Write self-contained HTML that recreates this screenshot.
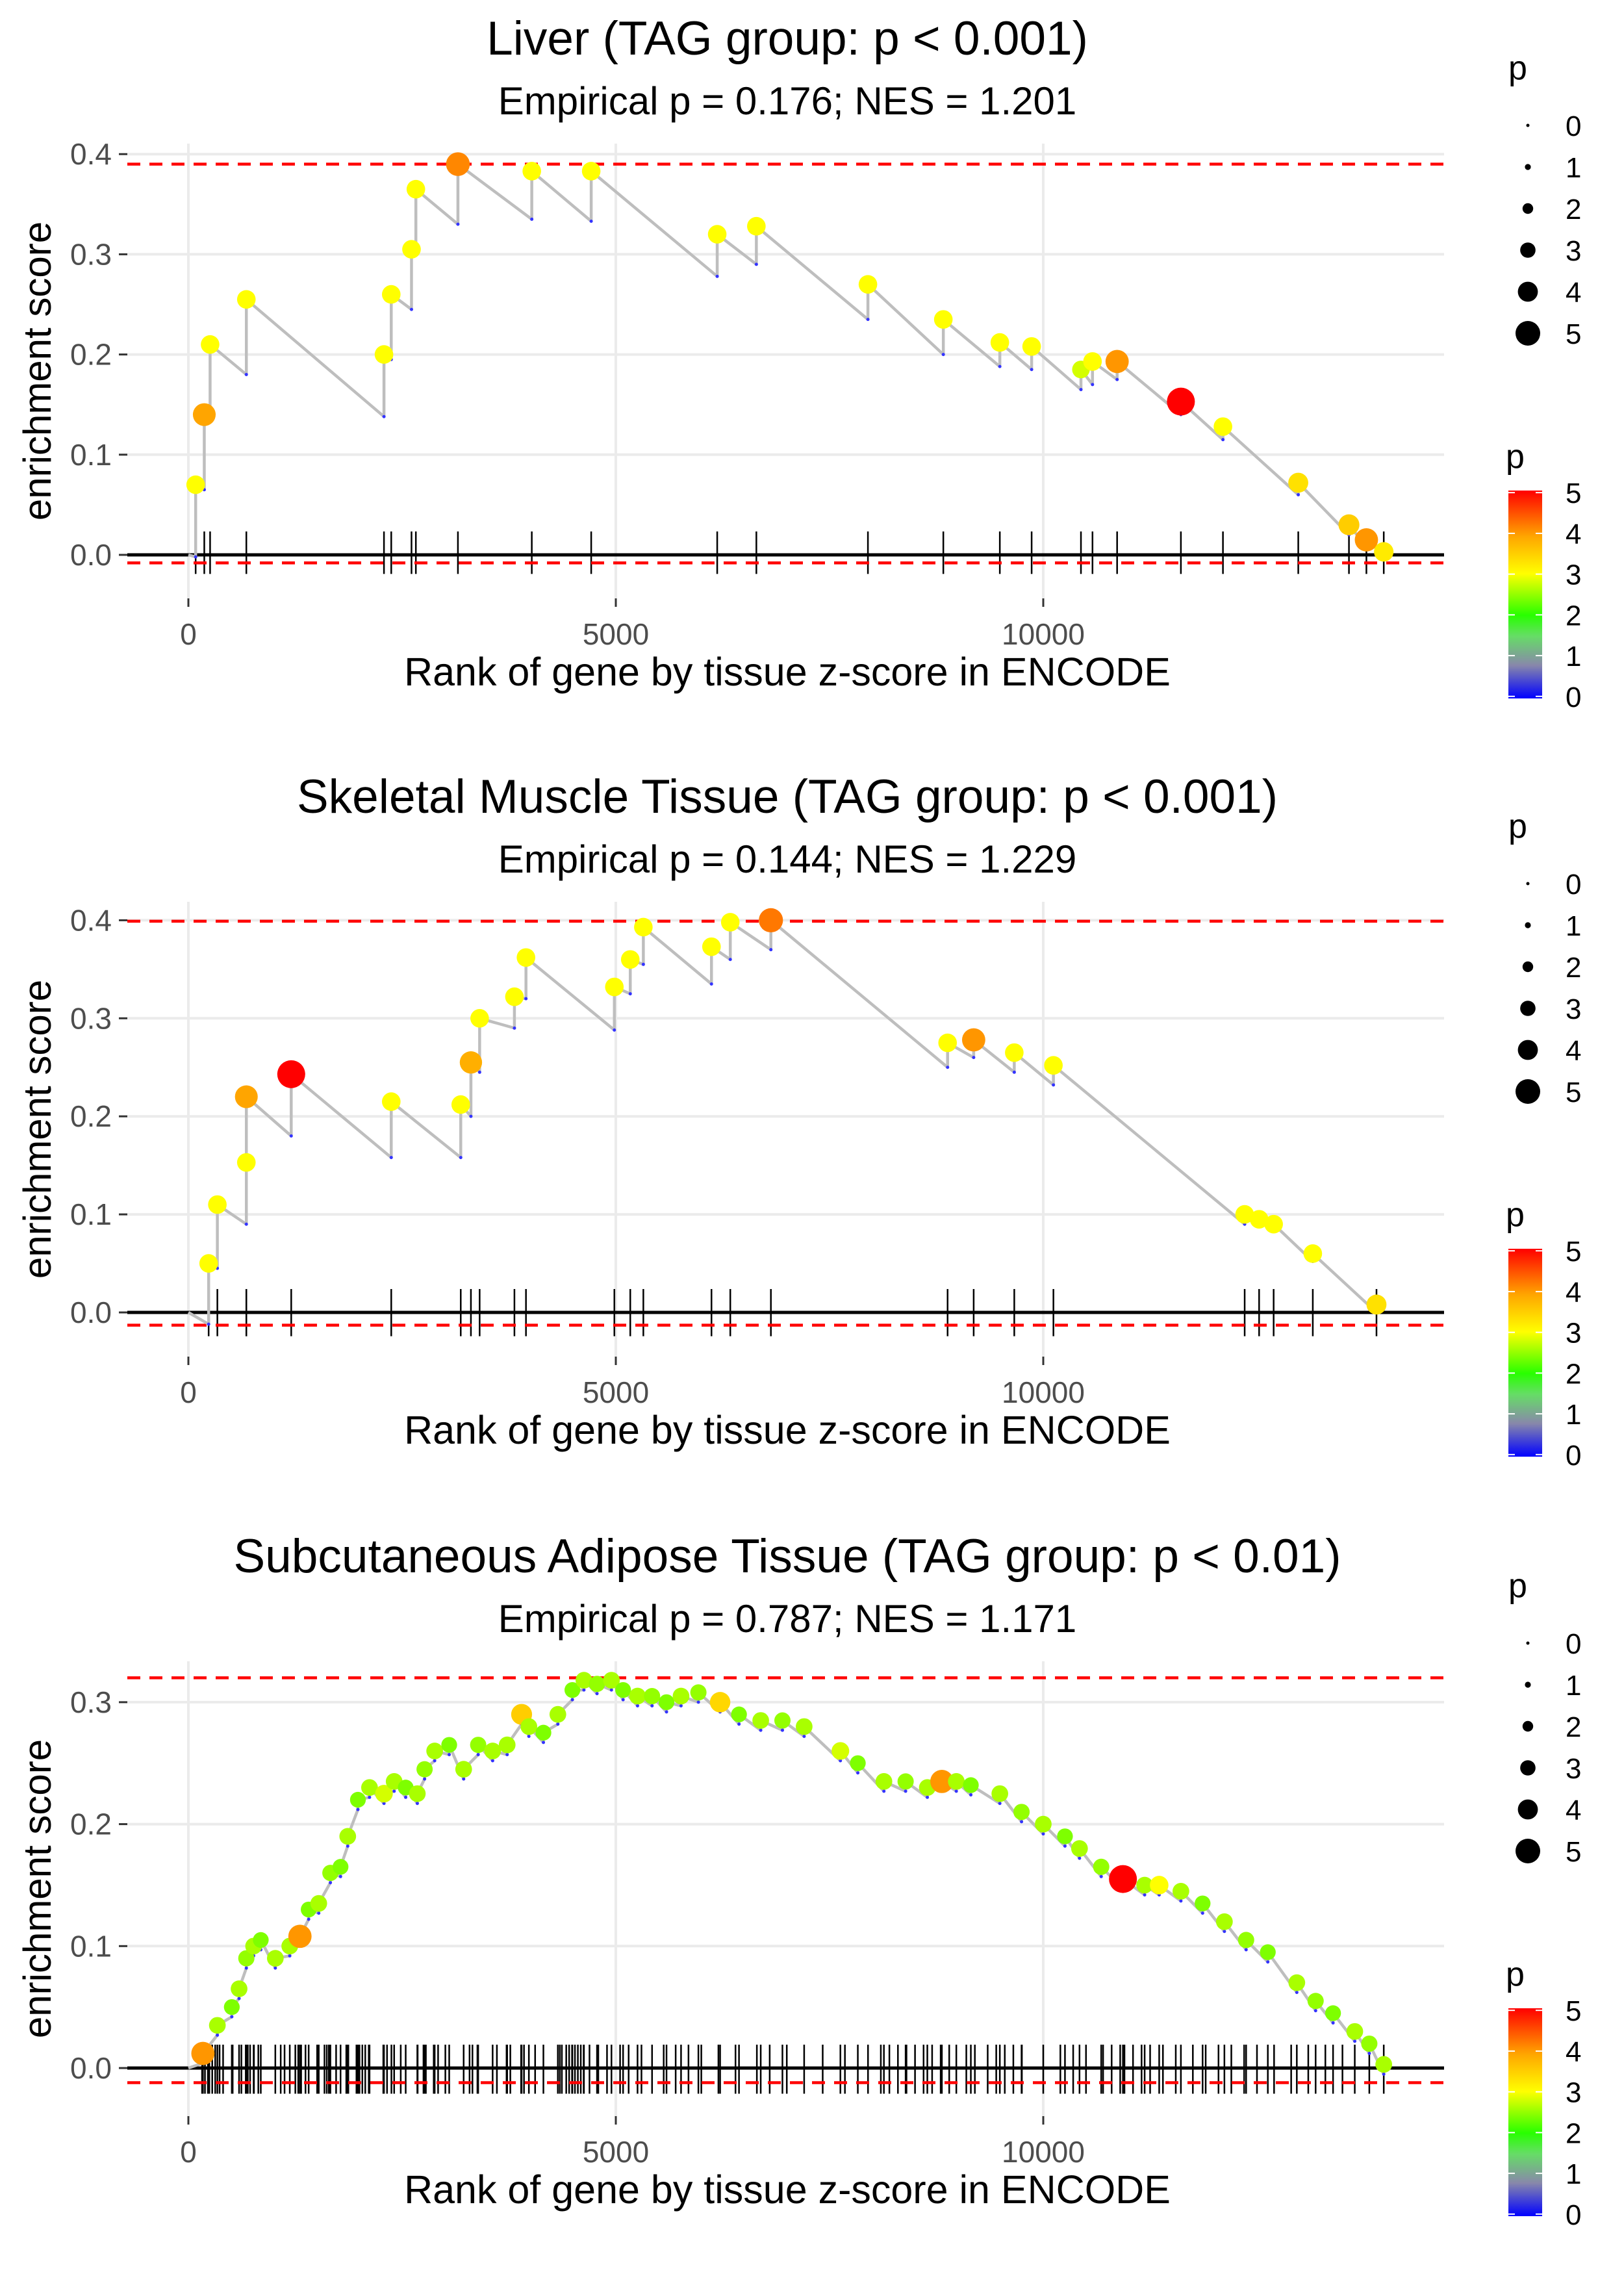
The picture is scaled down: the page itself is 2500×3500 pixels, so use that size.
<!DOCTYPE html>
<html><head><meta charset="utf-8"><style>
html,body{margin:0;padding:0;background:#fff}
svg{display:block;font-family:"Liberation Sans",sans-serif}
</style></head><body>
<svg id="chart" width="2500" height="3500" viewBox="0 0 2500 3500" xmlns="http://www.w3.org/2000/svg"></svg>
<script>
// Panel 1: Liver
const p1Ranks=[85,186,254,678,2288,2373,2610,2661,3153,4017,4712,6186,6644,7949,8831,9492,9864,10441,10576,10864,11610,12102,12983,13576,13780,13983];
const p1Tops=[0.07,0.14,0.21,0.255,0.20,0.26,0.305,0.365,0.39,0.383,0.383,0.32,0.328,0.27,0.235,0.212,0.208,0.185,0.193,0.193,0.153,0.128,0.072,0.03,0.015,0.003];
const p1Bottoms=[-0.002,0.065,0.135,0.18,0.138,0.195,0.245,0.30,0.33,0.335,0.333,0.278,0.29,0.235,0.2,0.188,0.185,0.165,0.17,0.175,0.14,0.115,0.06,0.02,0.008,0.0];
const p1P=[3,3.9,3,3,3,3,3,3,4.1,3,3,3,3,3,3,3,3,2.8,3,4,5,3,3.3,3.5,4,3.2];
// Panel 2: Skeletal muscle
const p2Ranks=[237,339,678,678,1203,2373,3186,3305,3407,3814,3949,4983,5169,5322,6119,6339,6814,8881,9186,9661,10119,12356,12525,12695,13153,13898];
const p2Tops=[0.05,0.11,0.153,0.22,0.243,0.215,0.212,0.255,0.30,0.322,0.362,0.332,0.36,0.393,0.373,0.398,0.40,0.275,0.278,0.265,0.252,0.10,0.095,0.09,0.06,0.008];
const p2Bottoms=[-0.012,0.045,0.09,0.153,0.18,0.158,0.158,0.2,0.245,0.29,0.32,0.288,0.325,0.355,0.335,0.36,0.37,0.25,0.26,0.245,0.232,0.09,0.088,0.083,0.052,0.0];
const p2P=[3,3,3,3.9,5,3,3,3.8,3,3,3,3,3,3,3,3,4.2,3,4,3,3,3,3,3,3,3.3];
// Panel 3: Subcutaneous adipose
const p3Ranks=[170,339,508,593,678,763,847,1017,1186,1305,1407,1525,1661,1780,1864,1983,2119,2288,2407,2542,2678,2763,2881,3051,3220,3390,3559,3729,3898,3983,4153,4322,4492,4627,4780,4949,5085,5254,5424,5593,5763,5966,6220,6441,6695,6949,7203,7627,7831,8136,8390,8644,8814,8983,9153,9492,9746,10000,10254,10424,10678,10932,11186,11356,11610,11864,12119,12373,12627,12966,13186,13390,13644,13814,13983];
const p3Tops=[0.012,0.035,0.05,0.065,0.09,0.1,0.105,0.09,0.1,0.108,0.13,0.135,0.16,0.165,0.19,0.22,0.23,0.225,0.235,0.23,0.225,0.245,0.26,0.265,0.245,0.265,0.26,0.265,0.29,0.28,0.275,0.29,0.31,0.318,0.315,0.318,0.31,0.305,0.305,0.3,0.305,0.308,0.3,0.29,0.285,0.285,0.28,0.26,0.25,0.235,0.235,0.23,0.235,0.235,0.232,0.225,0.21,0.2,0.19,0.18,0.165,0.155,0.15,0.15,0.145,0.135,0.12,0.105,0.095,0.07,0.055,0.045,0.03,0.02,0.003];
const p3P=[4,2.6,2.4,2.6,2.5,2.6,2.4,2.6,2.6,4,2.4,2.6,2.5,2.4,2.6,2.4,2.6,2.8,2.6,2.4,2.6,2.5,2.6,2.4,2.6,2.5,2.6,2.6,3.5,2.6,2.4,2.6,2.4,2.6,2.5,2.6,2.4,2.6,2.5,2.4,2.6,2.5,3.4,2.4,2.6,2.5,2.6,2.8,2.4,2.6,2.5,2.6,4,2.6,2.4,2.6,2.5,2.6,2.4,2.6,2.5,5,2.6,3,2.6,2.4,2.6,2.5,2.4,2.6,2.5,2.4,2.6,2.5,2.6];
const p3ExtraTicks=[160,194,228,245,279,314,365,406,518,620,671,695,722,767,818,1080,1125,1251,1285,1319,1370,1506,1592,1619,1643,1728,1847,1871,1966,2001,2035,2069,2110,2280,2324,2375,2484,2682,2750,2778,2870,2921,3006,3289,3323,3381,3609,3722,3766,3892,3926,4056,4345,4369,4420,4454,4488,4522,4556,4590,4624,4692,4795,4897,5050,5150,5300,5560,5700,5850,6000,6200,6400,6650,6800,7000,7420,7680,7950,8100,8200,8300,8400,8500,8600,8700,8800,8900,9100,9200,9350,9450,9550,9650,9750,10200,10350,10500,10700,10800,10900,10950,11050,11150,11250,11400,11550,11750,11900,12050,12200,12350,12500,12700,12900,13100,13300,13500];
const xTicks=[0,5000,10000];
const xTickLabels=["0","5000","10000"];

const NS="http://www.w3.org/2000/svg";
const svg=document.getElementById('chart');
function el(tag,attrs,parent,text){const e=document.createElementNS(NS,tag);for(const k in attrs)e.setAttribute(k,attrs[k]);if(text!==undefined)e.textContent=text;(parent||svg).appendChild(e);return e;}
const stops=[[0,[0,0,255]],[0.8,[136,136,170]],[1.5,[102,221,102]],[2,[40,255,0]],[3,[255,255,0]],[3.9,[255,165,0]],[5,[255,0,0]]];
function pColor(p){p=Math.max(0,Math.min(5,p));for(let i=1;i<stops.length;i++){if(p<=stops[i][0]){const a=stops[i-1],b=stops[i];const t=(p-a[0])/(b[0]-a[0]);const c=a[1].map((v,j)=>Math.round(v+(b[1][j]-v)*t));return `rgb(${c[0]},${c[1]},${c[2]})`;}}return 'red';}
function pRadius(p){return 3.5+3.6*p;}
const xScale=r=>290+r*0.1316;
const PL=196,PR=2223;

function panel(o){
  const g=el('g',{},svg);
  
  
  const off=o.off;
  const y=v=>o.y0-v*o.k;
  for(let v=0.1;v<=o.gmax+1e-9;v+=0.1){const gl=el('line',{x1:PL,x2:PR,y1:y(v),y2:y(v),stroke:'#ebebeb','stroke-width':4},g);}
  xTicks.forEach(t=>{const gl=el('line',{x1:xScale(t),x2:xScale(t),y1:221+off,y2:921+off,stroke:'#ebebeb','stroke-width':4},g);});
  const ti=el('text',{x:1212,y:84+off,'text-anchor':'middle','font-size':73,fill:'#000'},g,o.title);
  const st=el('text',{x:1212,y:176+off,'text-anchor':'middle','font-size':60,fill:'#000'},g,o.sub);
  for(let v=0;v<=o.gmax+1e-9;v+=0.1){
    const tl=el('text',{x:172,y:y(v)+16,'text-anchor':'end','font-size':46,fill:'#4d4d4d'},g,v.toFixed(1));
    el('line',{x1:183,x2:196,y1:y(v),y2:y(v),stroke:'#333','stroke-width':3},g);
  }
  xTicks.forEach((t,i)=>{
    el('line',{x1:xScale(t),x2:xScale(t),y1:921+off,y2:934+off,stroke:'#333','stroke-width':3},g);
    const tl=el('text',{x:xScale(t),y:992+off,'text-anchor':'middle','font-size':46,fill:'#4d4d4d'},g,xTickLabels[i]);
  });
  const yl=el('text',{x:0,y:0,'text-anchor':'middle','font-size':60,fill:'#000',transform:`translate(78,${(221+921)/2+off}) rotate(-90)`},g,'enrichment score');
  const xl=el('text',{x:1212,y:1055+off,'text-anchor':'middle','font-size':61,fill:'#000'},g,'Rank of gene by tissue z-score in ENCODE');
  const zl=el('line',{x1:PL,x2:PR,y1:y(0),y2:y(0),stroke:'#000','stroke-width':5},g);
  o.ranks.concat(o.extra||[]).forEach(r=>{const t=el('line',{x1:xScale(r),x2:xScale(r),y1:y(0)-36,y2:y(o.min)+17,stroke:'#000','stroke-width':2.5},g);});
  [o.max,o.min].forEach((v,i)=>{const d=el('line',{x1:PL,x2:PR,y1:y(v),y2:y(v),stroke:'#ff0000','stroke-width':4.5,'stroke-dasharray':'20 14'},g);});
  let pts=[[xScale(0),y(0)]];
  o.ranks.forEach((r,i)=>{pts.push([xScale(r),y(o.bottoms[i])]);pts.push([xScale(r),y(o.tops[i])]);});
  const pl=el('polyline',{points:pts.map(p=>p.join(',')).join(' '),fill:'none',stroke:'#bebebe','stroke-width':4.5,'stroke-linejoin':'round'},g);
  
  o.ranks.forEach((r,i)=>{const c=el('circle',{cx:xScale(r),cy:y(o.bottoms[i]),r:2.5,fill:'#3333ff'},g);});
  o.ranks.forEach((r,i)=>{const c=el('circle',{cx:xScale(r),cy:y(o.tops[i]),r:pRadius(o.p[i]),fill:pColor(o.p[i])},g);});
  const lt=el('text',{x:2322,y:122+off,'font-size':52,fill:'#000'},g,'p');
  [0,1,2,3,4,5].forEach((v,i)=>{const yy=193+i*64+off;const c=el('circle',{cx:2352,cy:yy,r:Math.max(2.5,1+3.6*v),fill:'#000'},g);const t=el('text',{x:2410,y:yy+16,'font-size':44,fill:'#000'},g,String(v));});
  const ct=el('text',{x:2318,y:720+off,'font-size':52,fill:'#000'},g,'p');
  const gid='grad'+o.id;const defs=el('defs',{},g);const lg=el('linearGradient',{id:gid,x1:0,y1:1,x2:0,y2:0},defs);
  stops.forEach(s=>el('stop',{offset:(s[0]/5),'stop-color':`rgb(${s[1].join(',')})`},lg));
  const bar=el('rect',{x:2322,y:755+off,width:52,height:320,fill:`url(#${gid})`},g);
  [5,4,3,2,1,0].forEach(v=>{const yy=755+off+320*(1-(v*0.98+0.05)/5);el('line',{x1:2322,x2:2332,y1:yy,y2:yy,stroke:'#fff','stroke-width':2},g);el('line',{x1:2364,x2:2374,y1:yy,y2:yy,stroke:'#fff','stroke-width':2},g);const t=el('text',{x:2410,y:yy+16,'font-size':44,fill:'#000'},g,String(v));});
}
panel({id:1,name:'liver-panel',off:0,y0:854,k:1542,gmax:0.4,max:0.39,min:-0.008,title:'Liver (TAG group: p < 0.001)',sub:'Empirical p = 0.176; NES = 1.201',ranks:p1Ranks,tops:p1Tops,bottoms:p1Bottoms,p:p1P});
panel({id:2,name:'skeletal-muscle-panel',off:1167,y0:2020,k:1509,gmax:0.4,max:0.399,min:-0.013,title:'Skeletal Muscle Tissue (TAG group: p < 0.001)',sub:'Empirical p = 0.144; NES = 1.229',ranks:p2Ranks,tops:p2Tops,bottoms:p2Bottoms,p:p2P});
const p3Bottoms=p3Tops.map(v=>v-0.008);
panel({id:3,name:'adipose-panel',off:2336,y0:3183,k:1877,gmax:0.3,max:0.32,min:-0.012,title:'Subcutaneous Adipose Tissue (TAG group: p < 0.01)',sub:'Empirical p = 0.787; NES = 1.171',ranks:p3Ranks,tops:p3Tops,bottoms:p3Bottoms,p:p3P,extra:p3ExtraTicks});
</script>
</body></html>
